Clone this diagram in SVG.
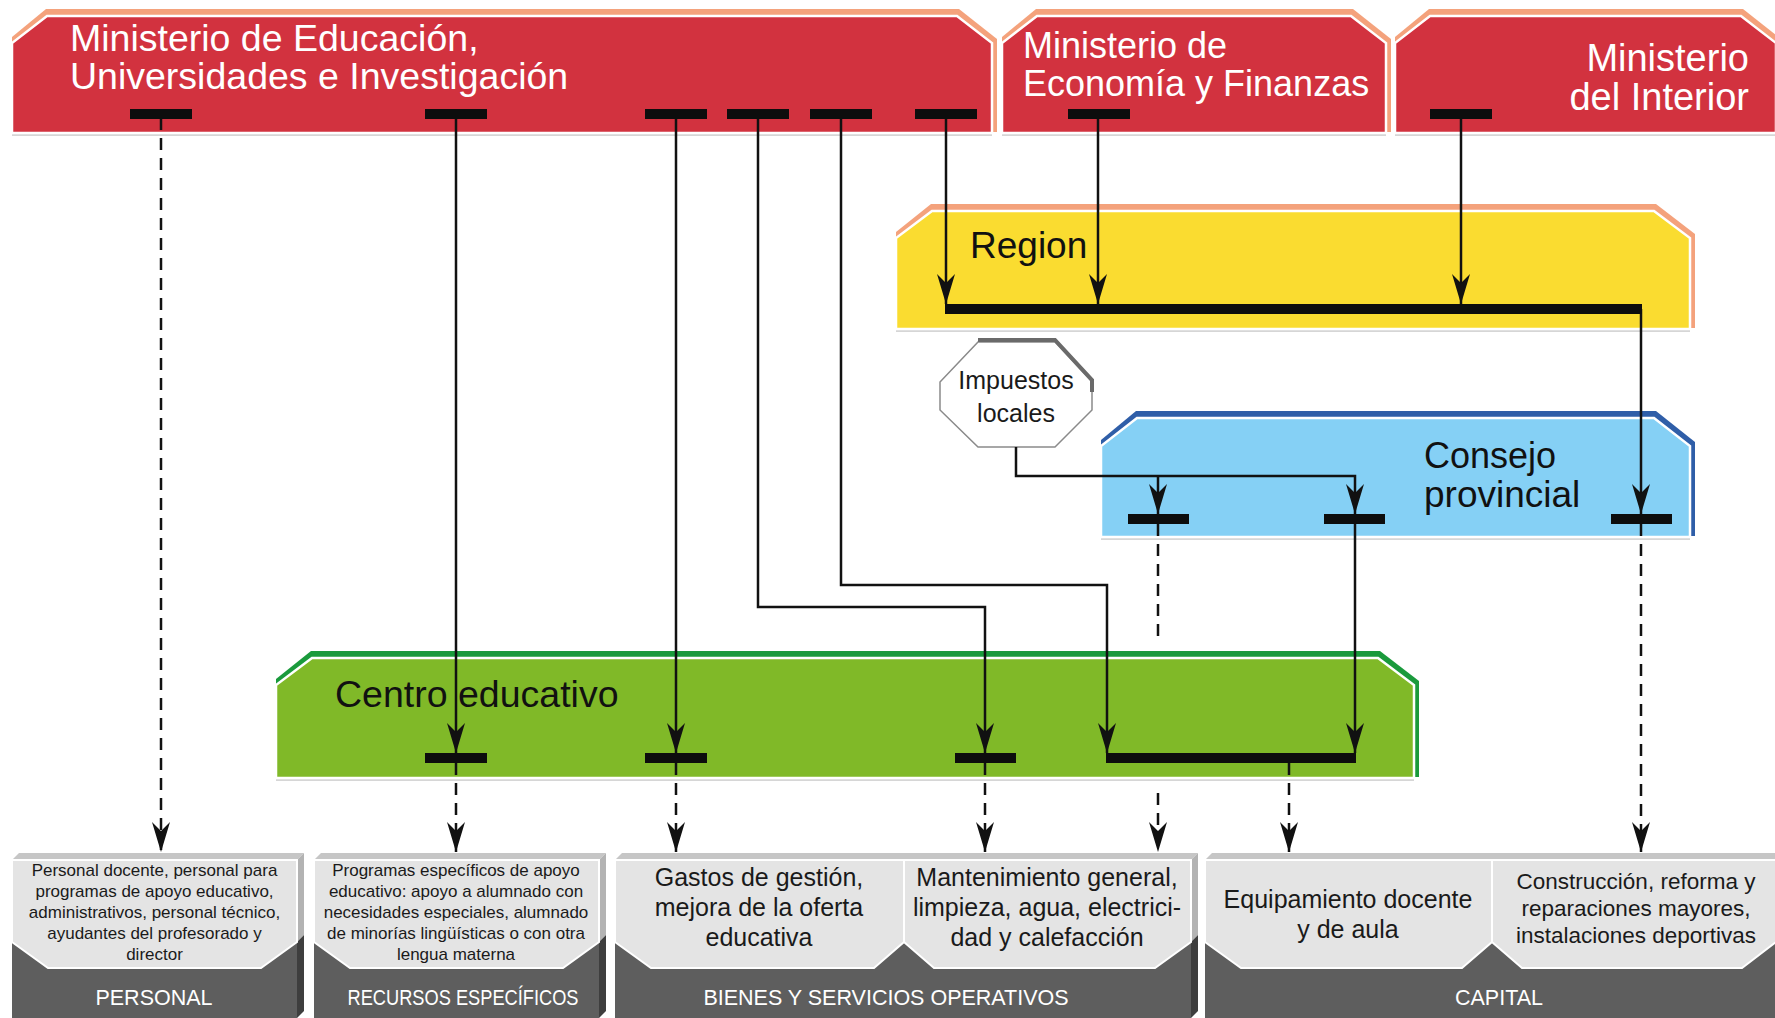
<svg xmlns="http://www.w3.org/2000/svg" width="1775" height="1018" viewBox="0 0 1775 1018">
<defs>
<style>
.t{font-family:'Liberation Sans',Arial,sans-serif}
.hw{fill:#ffffff}
.hb{fill:#111111}
.fr{stroke:#ffffff;stroke-width:2.5}
.ln{fill:none;stroke:#111111;stroke-width:2.5}
.ds{fill:none;stroke:#111111;stroke-width:2.5;stroke-dasharray:12 8}
.bar{fill:#0d0d0d}
.lp{fill:#e4e4e4;stroke:#ffffff;stroke-width:2}
.db{fill:#5e5e5e}
.tf{fill:#c6c6c6}
.rl{fill:#b3b3b3}
.rd{fill:#3e3e3e}
.pt{font-family:'Liberation Sans',Arial,sans-serif;fill:#1a1a1a;text-anchor:middle}
.lb{font-family:'Liberation Sans',Arial,sans-serif;fill:#ffffff;text-anchor:middle;font-size:21.5px}
.sh{stroke:#d6d6d6;stroke-width:2}
</style>
<marker id="ah" viewBox="-32 -10 34 20" markerWidth="34" markerHeight="20" refX="0" refY="0" markerUnits="userSpaceOnUse" orient="auto">
<path d="M0,0 L-30,-9 L-21,0 L-30,9 Z" fill="#111111"/>
</marker>
</defs>
<rect width="1775" height="1018" fill="#ffffff"/>

<g id="ministerio-educacion">
<line class="sh" x1="12" y1="135" x2="992" y2="135"/>
<polygon points="12,37 46,9 959,9 997,39 997,132 12,132" fill="#f4a27c"/>
<polygon class="fr" points="12,133 12,43 47,16 957,16 992,43 992,133" fill="#d2323f"/>
<text class="t hw" x="70" y="51" font-size="37.5">Ministerio de Educación,</text>
<text class="t hw" x="70" y="89" font-size="37.5">Universidades e Investigación</text>
</g>

<g id="ministerio-economia">
<line class="sh" x1="1002" y1="135" x2="1386" y2="135"/>
<polygon points="1002,37 1036,9 1353,9 1391,39 1391,132 1002,132" fill="#f4a27c"/>
<polygon class="fr" points="1002,133 1002,43 1037,16 1351,16 1386,43 1386,133" fill="#d2323f"/>
<text class="t hw" x="1023" y="58" font-size="36">Ministerio de</text>
<text class="t hw" x="1023" y="96" font-size="36">Economía y Finanzas</text>
</g>

<g id="ministerio-interior">
<line class="sh" x1="1395" y1="135" x2="1775" y2="135"/>
<polygon points="1395,37 1429,9 1743,9 1781,39 1781,132 1395,132" fill="#f4a27c"/>
<polygon class="fr" points="1395,133 1395,43 1430,16 1741,16 1776,43 1776,133" fill="#d2323f"/>
<text class="t hw" x="1749" y="71" font-size="38" text-anchor="end">Ministerio</text>
<text class="t hw" x="1749" y="110" font-size="38" text-anchor="end">del Interior</text>
</g>

<g id="region">
<line class="sh" x1="896" y1="331" x2="1690" y2="331"/>
<polygon points="896,232 931,204 1656,204 1695,234 1695,328 896,328" fill="#f4a27c"/>
<polygon class="fr" points="896,329 896,238 932,211 1654,211 1690,238 1690,329" fill="#fadc30"/>
<text class="t hb" x="970" y="258" font-size="37">Region</text>
</g>

<g id="impuestos-locales">
<polygon points="978,342 1055,342 1092,382 1092,410 1055,447 978,447 940,410 940,382" fill="#ffffff" stroke="#8a8a8a" stroke-width="1.5"/>
<polyline points="978,340 1055,340 1092,380 1092,392" fill="none" stroke="#6a6a6a" stroke-width="4"/>
<text class="pt" x="1016" y="389" font-size="25">Impuestos</text>
<text class="pt" x="1016" y="422" font-size="25">locales</text>
</g>

<g id="consejo-provincial">
<line class="sh" x1="1101" y1="539" x2="1690" y2="539"/>
<polygon points="1101,440 1136,411 1656,411 1695,442 1695,536 1101,536" fill="#2f5ea8"/>
<polygon class="fr" points="1101,537 1101,446 1137,418 1654,418 1690,446 1690,537" fill="#85d0f5"/>
<text class="t hb" x="1424" y="468" font-size="36">Consejo</text>
<text class="t hb" x="1424" y="507" font-size="37">provincial</text>
</g>

<g id="centro-educativo">
<line class="sh" x1="276" y1="780" x2="1414" y2="780"/>
<polygon points="276,679 311,651 1380,651 1419,681 1419,777 276,777" fill="#1a9a3c"/>
<polygon class="fr" points="276,778 276,685 312,658 1378,658 1414,685 1414,778" fill="#80b928"/>
<text class="t hb" x="335" y="707" font-size="37.5">Centro educativo</text>
</g>

<g id="personal">
<polygon class="tf" points="12,860 19,853 304,853 297,860"/>
<polygon class="rl" points="297,860 304,853 304,935 297,942"/>
<polygon class="rd" points="297,942 304,935 304,1011 297,1018"/>
<rect class="db" x="12" y="860" width="285" height="158"/>
<polygon class="lp" points="12,860 297,860 297,942 261,968 48,968 12,942"/>
<text class="pt" font-size="17"><tspan x="154.5" y="876">Personal docente, personal para</tspan><tspan x="154.5" y="897">programas de apoyo educativo,</tspan><tspan x="154.5" y="918">administrativos, personal técnico,</tspan><tspan x="154.5" y="939">ayudantes del profesorado y</tspan><tspan x="154.5" y="960">director</tspan></text>
<text class="lb" x="154" y="1005">PERSONAL</text>
</g>

<g id="recursos-especificos">
<polygon class="tf" points="314,860 321,853 606,853 599,860"/>
<polygon class="rl" points="599,860 606,853 606,935 599,942"/>
<polygon class="rd" points="599,942 606,935 606,1011 599,1018"/>
<rect class="db" x="314" y="860" width="285" height="158"/>
<polygon class="lp" points="314,860 599,860 599,942 563,968 350,968 314,942"/>
<text class="pt" font-size="17"><tspan x="456" y="876">Programas específicos de apoyo</tspan><tspan x="456" y="897">educativo: apoyo a alumnado con</tspan><tspan x="456" y="918">necesidades especiales, alumnado</tspan><tspan x="456" y="939">de minorías lingüísticas o con otra</tspan><tspan x="456" y="960">lengua materna</tspan></text>
<text class="lb" x="463" y="1005" textLength="231" lengthAdjust="spacingAndGlyphs">RECURSOS ESPECÍFICOS</text>
</g>

<g id="bienes-servicios">
<polygon class="tf" points="615,860 622,853 1198,853 1191,860"/>
<polygon class="rl" points="1191,860 1198,853 1198,935 1191,942"/>
<polygon class="rd" points="1191,942 1198,935 1198,1011 1191,1018"/>
<rect class="db" x="615" y="860" width="576" height="158"/>
<polygon class="lp" points="615,860 904,860 904,942 874,968 651,968 615,942"/>
<polygon class="lp" points="904,860 1191,860 1191,942 1155,968 934,968 904,942"/>
<text class="pt" font-size="25"><tspan x="759" y="886">Gastos de gestión,</tspan><tspan x="759" y="916">mejora de la oferta</tspan><tspan x="759" y="946">educativa</tspan></text>
<text class="pt" font-size="25"><tspan x="1047" y="886">Mantenimiento general,</tspan><tspan x="1047" y="916">limpieza, agua, electrici-</tspan><tspan x="1047" y="946">dad y calefacción</tspan></text>
<text class="lb" x="886" y="1005">BIENES Y SERVICIOS OPERATIVOS</text>
</g>

<g id="capital">
<polygon class="tf" points="1205,860 1212,853 1785,853 1785,860"/>
<rect class="db" x="1205" y="860" width="580" height="158"/>
<polygon class="lp" points="1205,860 1492,860 1492,942 1462,968 1241,968 1205,942"/>
<polygon class="lp" points="1492,860 1776,860 1776,942 1742,968 1522,968 1492,942"/>
<text class="pt" font-size="25"><tspan x="1348" y="908">Equipamiento docente</tspan><tspan x="1348" y="938">y de aula</tspan></text>
<text class="pt" font-size="22.5"><tspan x="1636" y="889">Construcción, reforma y</tspan><tspan x="1636" y="916">reparaciones mayores,</tspan><tspan x="1636" y="943">instalaciones deportivas</tspan></text>
<text class="lb" x="1499" y="1005">CAPITAL</text>
</g>

<g id="connectors">
<path class="ln" d="M456,118 V753" marker-end="url(#ah)"/>
<path class="ln" d="M676,118 V753" marker-end="url(#ah)"/>
<path class="ln" d="M758,118 V607 H985 V753" marker-end="url(#ah)"/>
<path class="ln" d="M841,118 V585 H1107 V753" marker-end="url(#ah)"/>
<path class="ln" d="M946,118 V304" marker-end="url(#ah)"/>
<path class="ln" d="M1098,118 V304" marker-end="url(#ah)"/>
<path class="ln" d="M1461,118 V304" marker-end="url(#ah)"/>
<path class="ln" d="M1641,309 V514" marker-end="url(#ah)"/>
<path class="ln" d="M1016,447 V476 H1355 V514" marker-end="url(#ah)"/>
<path class="ln" d="M1158,476 V514" marker-end="url(#ah)"/>
<path class="ln" d="M1355,524 V753" marker-end="url(#ah)"/>
<path class="ds" d="M161,118 V852" marker-end="url(#ah)"/>
<path class="ds" d="M456,763 V852" marker-end="url(#ah)"/>
<path class="ds" d="M676,763 V852" marker-end="url(#ah)"/>
<path class="ds" d="M985,763 V852" marker-end="url(#ah)"/>
<path class="ds" d="M1289,763 V852" marker-end="url(#ah)"/>
<path class="ds" d="M1158,524 V643"/>
<path class="ds" d="M1158,793 V852" marker-end="url(#ah)"/>
<path class="ds" d="M1641,524 V852" marker-end="url(#ah)"/>
<rect class="bar" x="130" y="109" width="62" height="10"/>
<rect class="bar" x="425" y="109" width="62" height="10"/>
<rect class="bar" x="645" y="109" width="62" height="10"/>
<rect class="bar" x="727" y="109" width="62" height="10"/>
<rect class="bar" x="810" y="109" width="62" height="10"/>
<rect class="bar" x="915" y="109" width="62" height="10"/>
<rect class="bar" x="1068" y="109" width="62" height="10"/>
<rect class="bar" x="1430" y="109" width="62" height="10"/>
<rect class="bar" x="945" y="304" width="697" height="10"/>
<rect class="bar" x="1128" y="514" width="61" height="10"/>
<rect class="bar" x="1324" y="514" width="61" height="10"/>
<rect class="bar" x="1611" y="514" width="61" height="10"/>
<rect class="bar" x="425" y="753" width="62" height="10"/>
<rect class="bar" x="645" y="753" width="62" height="10"/>
<rect class="bar" x="955" y="753" width="61" height="10"/>
<rect class="bar" x="1106" y="753" width="250" height="10"/>
</g>
</svg>
